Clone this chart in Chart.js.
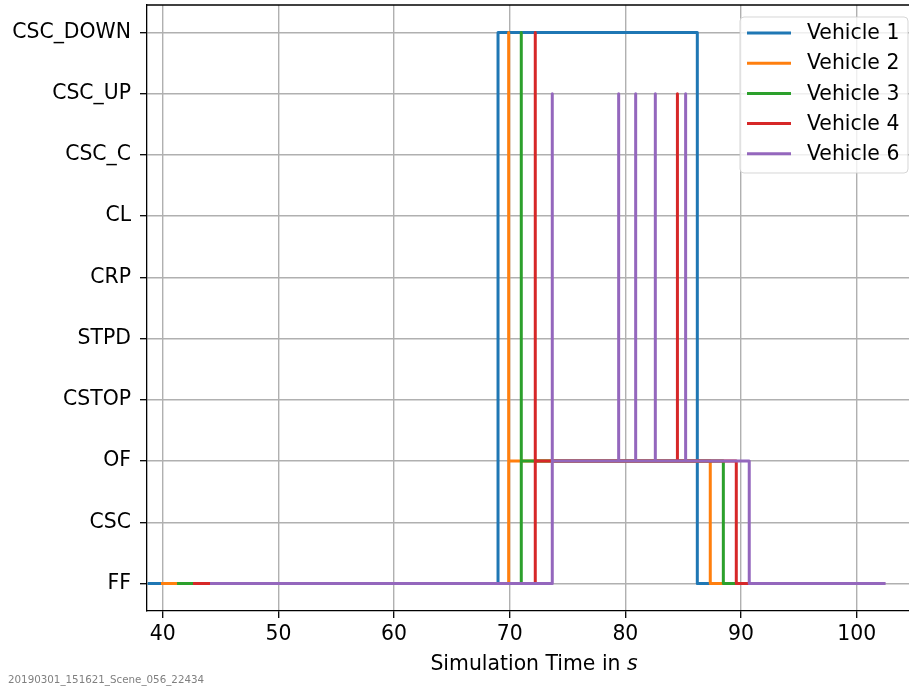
<!DOCTYPE html>
<html>
<head>
<meta charset="utf-8">
<script src="https://cdn.jsdelivr.net/npm/chart.js@4.4.1/dist/chart.umd.min.js"></script>
<style>
  body { margin: 0; background: #fff; }
  #wrap { width: 909px; height: 687px; overflow: hidden; position: relative; }
</style>
</head>
<body>
<div id="wrap"><canvas id="chart" width="921" height="687"></canvas></div>
<script>
// Zustände (unten -> oben)
const states = ['FF', 'CSC', 'OF', 'CSTOP', 'STPD', 'CRP', 'CL', 'CSC_C', 'CSC_UP', 'CSC_DOWN'];
const xTicks = [40, 50, 60, 70, 80, 90, 100];

const vehicleNames = ['Vehicle 1', 'Vehicle 2', 'Vehicle 3', 'Vehicle 4', 'Vehicle 6'];
const vehicleColors = ['#1f77b4', '#ff7f0e', '#2ca02c', '#d62728', '#9467bd'];

// Zeitpunkte der Zustandswechsel und neuer Zustand
const v1Times  = [38.70, 68.99, 86.22, 102.0];
const v1States = ['FF', 'CSC_DOWN', 'FF', 'FF'];

const v2Times  = [39.85, 69.91, 69.91, 87.34, 102.1];
const v2States = ['FF', 'CSC_DOWN', 'OF', 'FF', 'FF'];

const v3Times  = [41.24, 71.00, 71.00, 88.47, 102.2];
const v3States = ['FF', 'CSC_DOWN', 'OF', 'FF', 'FF'];

const v4Times  = [42.62, 72.21, 72.21, 84.50, 84.50, 89.59, 102.3];
const v4States = ['FF', 'CSC_DOWN', 'OF', 'CSC_UP', 'OF', 'FF', 'FF'];

const v6Times  = [44.09, 73.68, 73.68, 79.42, 79.42, 80.89, 80.89, 82.59, 82.59, 85.21, 85.21, 90.71, 102.5];
const v6States = ['FF', 'CSC_UP', 'OF', 'CSC_UP', 'OF', 'CSC_UP', 'OF', 'CSC_UP', 'OF', 'CSC_UP', 'OF', 'FF', 'FF'];

const allTimes = [v1Times, v2Times, v3Times, v4Times, v6Times];
const allStates = [v1States, v2States, v3States, v4States, v6States];

const FONT = '"DejaVu Sans", "Liberation Sans", sans-serif';

const datasets = vehicleNames.map((name, i) => ({
    label: name,
    data: allTimes[i].map((t, k) => ({ x: t, y: states.indexOf(allStates[i][k]) })),
    borderColor: vehicleColors[i],
    backgroundColor: vehicleColors[i],
    borderWidth: 3,
    stepped: true,
    pointRadius: 0,
    fill: false,
    order: vehicleNames.length - i, // letzte Serie oben
    borderJoinStyle: 'round'
}));

// Rahmen oben, Legende, Achsentitel, Fußzeile
const extras = {
    id: 'extras',
    afterDraw(chart) {
        const ctx = chart.ctx;
        const a = chart.chartArea;
        ctx.save();

        // obere Achsenlinie
        ctx.strokeStyle = '#000';
        ctx.lineWidth = 1.3;
        ctx.beginPath();
        ctx.moveTo(a.left, a.top);
        ctx.lineTo(a.right, a.top);
        ctx.stroke();

        // Legende
        const lx = a.right - 181, ly = a.top + 12, lw = 168, lh = 156;
        ctx.beginPath();
        ctx.roundRect(lx, ly, lw, lh, 4);
        ctx.fillStyle = 'rgba(255,255,255,0.8)';
        ctx.fill();
        ctx.strokeStyle = 'rgba(204,204,204,0.8)';
        ctx.lineWidth = 1;
        ctx.stroke();
        ctx.font = '20.4px ' + FONT;
        ctx.textBaseline = 'middle';
        ctx.textAlign = 'left';
        vehicleNames.forEach((name, i) => {
            const y = ly + 16 + i * 30.2;
            ctx.strokeStyle = vehicleColors[i];
            ctx.lineWidth = 3;
            ctx.beginPath();
            ctx.moveTo(lx + 7, y);
            ctx.lineTo(lx + 51, y);
            ctx.stroke();
            ctx.fillStyle = '#000';
            ctx.fillText(name, lx + 67, y + 1);
        });

        // x-Achsentitel mit kursivem s
        const t1 = 'Simulation Time in ';
        ctx.font = '20.4px ' + FONT;
        const w1 = ctx.measureText(t1).width;
        ctx.font = 'italic 20.4px ' + FONT;
        const w2 = ctx.measureText('s').width;
        const cx = (a.left + a.right) / 2;
        const x0 = cx - (w1 + w2) / 2;
        ctx.textBaseline = 'alphabetic';
        ctx.fillStyle = '#000';
        ctx.font = '20.4px ' + FONT;
        ctx.fillText(t1, x0, 670);
        ctx.font = 'italic 20.4px ' + FONT;
        ctx.fillText('s', x0 + w1, 670);

        // Fußzeile
        ctx.font = '10.3px ' + FONT;
        ctx.fillStyle = '#808080';
        ctx.fillText('20190301_151621_Scene_056_22434', 8, 683);

        ctx.restore();
    }
};

const ctx = document.getElementById('chart').getContext('2d');
const chart = new Chart(ctx, {
    type: 'line',
    data: { datasets: datasets },
    plugins: [extras],
    options: {
        responsive: false,
        animation: false,
        layout: { padding: { top: 5, right: 0, left: 0, bottom: 0 } },
        plugins: {
            legend: { display: false },
            tooltip: { enabled: false }
        },
        scales: {
            x: {
                type: 'linear',
                min: 38.64,
                max: 105.56,
                afterBuildTicks: axis => { axis.ticks = xTicks.map(v => ({ value: v })); },
                afterFit: axis => { axis.height = 76; axis.paddingLeft = 0; axis.paddingRight = 0; },
                ticks: {
                    color: '#000',
                    font: { family: FONT, size: 20.4 },
                    padding: 4,
                    maxRotation: 0,
                    callback: v => v
                },
                grid: {
                    color: '#b0b0b0',
                    lineWidth: 1.4,
                    tickColor: '#000',
                    tickLength: 7,
                    tickWidth: 1.3
                },
                border: { color: '#000', width: 1.3 }
            },
            y: {
                type: 'linear',
                min: -0.45,
                max: 9.45,
                afterBuildTicks: axis => { axis.ticks = states.map((s, i) => ({ value: i })); },
                afterFit: axis => { axis.width = 147; axis.paddingTop = 0; axis.paddingBottom = 0; },
                ticks: {
                    color: '#000',
                    font: { family: FONT, size: 20.4 },
                    padding: 9,
                    callback: v => states[v]
                },
                grid: {
                    color: '#b0b0b0',
                    lineWidth: 1.4,
                    tickColor: '#000',
                    tickLength: 7,
                    tickWidth: 1.3
                },
                border: { color: '#000', width: 1.3 }
            }
        }
    }
});
</script>
</body>
</html>
